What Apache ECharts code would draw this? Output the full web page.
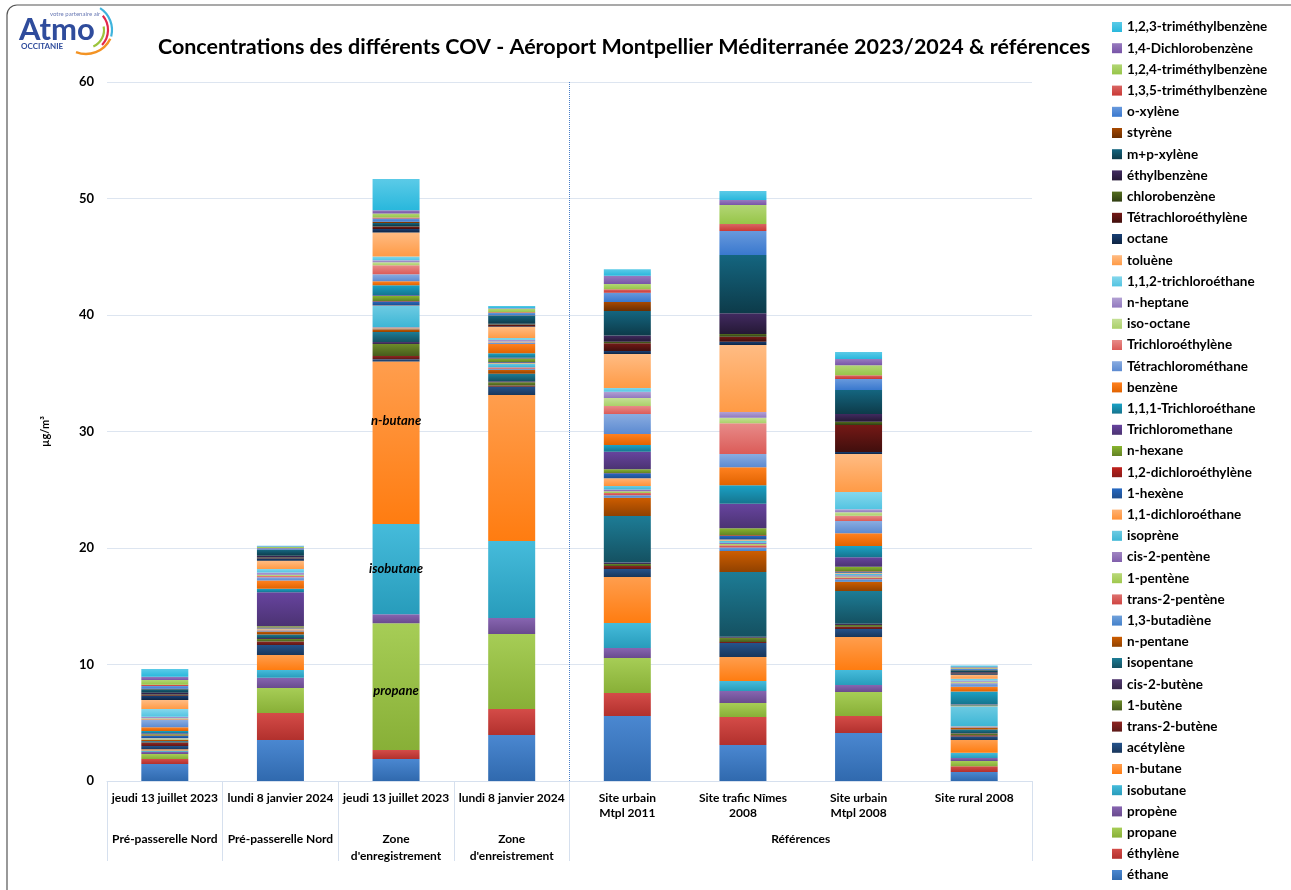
<!DOCTYPE html>
<html>
<head>
<meta charset="utf-8">
<title>COV - Aéroport Montpellier Méditerranée</title>
<script src="https://cdn.jsdelivr.net/npm/echarts@6/dist/echarts.min.js"></script>
<style>
  html, body { margin: 0; padding: 0; background: #fff; }
  #chart { width: 1291px; height: 890px; }
</style>
</head>
<body>
<div id="chart"></div>
<script>
// catégories (x) et regroupements
const categories = [
  'jeudi 13 juillet 2023', 'lundi 8 janvier 2024', 'jeudi 13 juillet 2023', 'lundi 8 janvier 2024',
  'Site urbain\nMtpl 2011', 'Site trafic Nîmes\n2008', 'Site urbain\nMtpl 2008', 'Site rural 2008'
];
const groups = ['Pré-passerelle Nord', 'Pré-passerelle Nord', "Zone\nd'enregistrement", "Zone\nd'enreistrement", 'Références'];
const groupPos = [0.5, 1.5, 2.5, 3.5, 6];

// composés, du bas de la pile vers le haut
const compounds = [
  'éthane', 'éthylène', 'propane', 'propène', 'isobutane', 'n-butane', 'acétylène', 'trans-2-butène',
  '1-butène', 'cis-2-butène', 'isopentane', 'n-pentane', '1,3-butadiène', 'trans-2-pentène', '1-pentène',
  'cis-2-pentène', 'isoprène', '1,1-dichloroéthane', '1-hexène', '1,2-dichloroéthylène', 'n-hexane',
  'Trichloromethane', '1,1,1-Trichloroéthane', 'benzène', 'Tétrachlorométhane', 'Trichloroéthylène',
  'iso-octane', 'n-heptane', '1,1,2-trichloroéthane', 'toluène', 'octane', 'Tétrachloroéthylène',
  'chlorobenzène', 'éthylbenzène', 'm+p-xylène', 'styrène', 'o-xylène', '1,3,5-triméthylbenzène',
  '1,2,4-triméthylbenzène', '1,4-Dichlorobenzène', '1,2,3-triméthylbenzène'
];
const compoundColors = [
  '#4F81BD', '#C0504D', '#9BBB59', '#8064A2', '#4BACC6', '#F79646', '#2C4D75', '#772C2A',
  '#5F7530', '#4D3B62', '#276A7C', '#B65708', '#729ACA', '#CD7371', '#AFC97A',
  '#9983B5', '#6FBDD1', '#F9AB6B', '#3565A5', '#A2302D', '#7A9A3A',
  '#62498A', '#2B8CA6', '#F57A1A', '#89A6D2', '#D98A88',
  '#BCD394', '#AC9DC8', '#85CBDD', '#F9B47A', '#1F3A5F', '#5E1F1D',
  '#485A24', '#3B2B50', '#1D5567', '#924306', '#6A93CB', '#C76866',
  '#A8C675', '#9179B1', '#5FBCD4'
];

// concentrations (µg/m3), même ordre que compounds
const preNord2023 = [1.46, 0.43, 0.43, 0.2, 0.1, 0.1, 0.28, 0.26, 0.05, 0.05, 0.07, 0.08, 0.03, 0.03, 0.03, 0.03, 0.03, 0.03, 0.17, 0.05, 0.1, 0.08, 0.2, 0.32, 0.63, 0.06, 0.08, 0.14, 0.66, 0.77, 0.35, 0.05, 0.08, 0.15, 0.29, 0.05, 0.23, 0.12, 0.4, 0.28, 0.66];
const preNord2024 = [3.52, 2.32, 2.14, 0.89, 0.66, 1.29, 0.86, 0.3, 0.2, 0.1, 0.3, 0.25, 0.05, 0.03, 0.03, 0.03, 0.03, 0.1, 0.05, 0.03, 0.1, 2.92, 0.3, 0.7, 0.3, 0.1, 0.1, 0.2, 0.3, 0.7, 0.2, 0.05, 0.03, 0.15, 0.5, 0.03, 0.12, 0.03, 0.08, 0.03, 0.08];
const zoneEnr2023 = [1.89, 0.77, 10.88, 0.77, 7.75, 13.94, 0.2, 0.28, 1.03, 0.17, 0.86, 0.23, 0.05, 0.05, 0.05, 0.05, 1.8, 0.05, 0.34, 0.05, 0.43, 0.05, 0.86, 0.34, 0.6, 0.77, 0.26, 0.17, 0.34, 2.06, 0.29, 0.17, 0.05, 0.05, 0.25, 0.1, 0.29, 0.08, 0.34, 0.29, 2.67];
const zoneEnr2024 = [3.95, 2.23, 6.44, 1.37, 6.61, 12.53, 0.72, 0.09, 0.29, 0.09, 0.63, 0.34, 0.1, 0.05, 0.05, 0.05, 0.3, 0.05, 0.05, 0.03, 0.3, 0.05, 0.4, 0.8, 0.1, 0.05, 0.05, 0.15, 0.15, 0.95, 0.05, 0.15, 0.03, 0.05, 0.7, 0.03, 0.2, 0.05, 0.3, 0.05, 0.2];
const urbainMtpl2011 = [5.58, 1.97, 3.0, 0.86, 2.15, 3.95, 0.69, 0.26, 0.17, 0.12, 4.0, 1.57, 0.2, 0.2, 0.15, 0.15, 0.3, 0.66, 0.43, 0.03, 0.31, 1.52, 0.57, 0.95, 1.71, 0.69, 0.69, 0.54, 0.31, 2.92, 0.26, 0.66, 0.14, 0.54, 2.09, 0.78, 0.8, 0.28, 0.46, 0.71, 0.55];
const traficNimes2008 = [3.09, 2.4, 1.2, 1.03, 0.86, 2.06, 1.2, 0.1, 0.35, 0.1, 5.55, 1.8, 0.3, 0.2, 0.1, 0.1, 0.2, 0.1, 0.3, 0.05, 0.6, 2.1, 1.6, 1.54, 1.14, 2.63, 0.49, 0.48, 0, 5.75, 0.29, 0.43, 0.23, 1.77, 5.01, 0, 2.06, 0.6, 1.63, 0.43, 0.77];
const urbainMtpl2008 = [4.12, 1.46, 2.06, 0.6, 1.29, 2.83, 0.69, 0.2, 0.15, 0.1, 2.8, 0.81, 0.2, 0.15, 0.1, 0.1, 0.15, 0.06, 0.1, 0.03, 0.4, 0.8, 0.97, 1.09, 1.06, 0.45, 0.29, 0.26, 1.49, 3.26, 0.17, 2.32, 0.28, 0.66, 2.06, 0, 0.95, 0.31, 0.86, 0.54, 0.6];
const rural2008 = [0.77, 0.5, 0.45, 0.25, 0.45, 1.1, 0.3, 0.1, 0.15, 0.05, 0.3, 0.15, 0.05, 0.03, 0.03, 0.03, 1.7, 0.03, 0.03, 0.02, 0.05, 0.05, 1.1, 0.4, 0.3, 0.05, 0.08, 0.1, 0.15, 0.35, 0.1, 0.05, 0.03, 0.05, 0.15, 0.02, 0.1, 0.03, 0.1, 0.05, 0.12];

const columns = [preNord2023, preNord2024, zoneEnr2023, zoneEnr2024, urbainMtpl2011, traficNimes2008, urbainMtpl2008, rural2008];

// étiquettes écrites dans la 3e barre (décalage vertical)
const inBarLabels = { 'n-butane': -22, 'isobutane': 0, 'propane': 4 };

const font = 'Lato';

// hex -> hsl, on sature un peu et on joue sur la luminosité
function hsl(hex, satMul, dl) {
  const n = parseInt(hex.slice(1), 16);
  let r = ((n >> 16) & 255) / 255, g = ((n >> 8) & 255) / 255, b = (n & 255) / 255;
  const max = Math.max(r, g, b), min = Math.min(r, g, b);
  let h = 0, s = 0, l = (max + min) / 2;
  if (max !== min) {
    const d = max - min;
    s = l > 0.5 ? d / (2 - max - min) : d / (max + min);
    if (max === r) h = (g - b) / d + (g < b ? 6 : 0);
    else if (max === g) h = (b - r) / d + 2;
    else h = (r - g) / d + 4;
    h *= 60;
  }
  s = Math.min(1, s * satMul);
  l = Math.max(0, Math.min(1, l + dl));
  return 'hsl(' + h.toFixed(1) + ',' + (s * 100).toFixed(1) + '%,' + (l * 100).toFixed(1) + '%)';
}

function gradient(hex) {
  return {
    type: 'linear', x: 0, y: 0, x2: 0, y2: 1,
    colorStops: [
      { offset: 0, color: hsl(hex, 1.3, 0.03) },
      { offset: 1, color: hsl(hex, 1.25, -0.09) }
    ]
  };
}

const series = compounds.map((name, i) => ({
  name: name,
  type: 'bar',
  stack: 'cov',
  barWidth: 47,
  itemStyle: { color: gradient(compoundColors[i]) },
  emphasis: { disabled: true },
  data: columns.map((col, j) => {
    if (j === 2 && inBarLabels[name] !== undefined) {
      return {
        value: col[i],
        label: {
          show: true, position: 'inside', formatter: '{a}',
          offset: [0, inBarLabels[name]],
          color: '#000', fontFamily: font, fontSize: 13, fontWeight: 'bold', fontStyle: 'italic'
        }
      };
    }
    return col[i];
  })
}));

const chart = echarts.init(document.getElementById('chart'));

chart.setOption({
  animation: false,
  backgroundColor: '#fff',
  title: {
    text: 'Concentrations des différents COV - Aéroport Montpellier Méditerranée 2023/2024 & références',
    left: 619, top: 31, textAlign: 'center',
    textStyle: { fontFamily: font, fontSize: 21.5, fontWeight: 'bold', color: '#000' }
  },
  legend: {
    orient: 'vertical',
    left: 1112, top: 20,
    padding: 0,
    data: compounds.slice().reverse(),
    icon: 'rect',
    itemWidth: 10, itemHeight: 10,
    itemGap: 7.2,
    selectedMode: false,
    textStyle: { fontFamily: font, fontSize: 13.5, fontWeight: 'bold', color: '#000' }
  },
  grid: { left: 107, right: 259, top: 82, bottom: 109 },
  xAxis: [
    {
      type: 'category',
      data: categories,
      axisLine: { lineStyle: { color: '#d6e0ee' } },
      axisTick: { show: false },
      splitLine: { show: false },
      axisLabel: {
        interval: 0, margin: 10, lineHeight: 15,
        fontFamily: font, fontSize: 12, fontWeight: 'bold', color: '#000'
      }
    },
    {
      // regroupements sous l'axe + traits du tableau
      type: 'value',
      min: 0, max: 8,
      position: 'bottom',
      axisLine: { show: false },
      splitLine: { show: false },
      axisTick: { show: true, customValues: [0, 1, 2, 3, 4, 8], length: 80, lineStyle: { color: '#d6e0ee' } },
      axisLabel: {
        customValues: groupPos,
        formatter: (v) => groups[groupPos.indexOf(v)],
        margin: 50, lineHeight: 17,
        fontFamily: font, fontSize: 12, fontWeight: 'bold', color: '#000'
      }
    },
    {
      // séparateur pointillé avant les références
      type: 'value',
      min: 0, max: 8, interval: 4,
      position: 'bottom',
      axisLine: { show: false },
      axisTick: { show: false },
      axisLabel: { show: false },
      splitLine: {
        show: true, showMinLine: false, showMaxLine: false,
        lineStyle: { color: '#4a7fc8', type: 'dotted', width: 1 }
      }
    }
  ],
  yAxis: {
    type: 'value',
    min: 0, max: 60, interval: 10,
    name: 'µg/m³',
    nameLocation: 'middle', nameGap: 56, nameRotate: 90,
    nameTextStyle: { fontFamily: font, fontSize: 11, fontWeight: 'bold', color: '#000' },
    axisLine: { show: false },
    axisTick: { show: false },
    axisLabel: { margin: 13, fontFamily: font, fontSize: 13, fontWeight: 'bold', color: '#000' },
    splitLine: { lineStyle: { color: '#dde5f0' } }
  },
  graphic: [
    { type: 'rect', silent: true, shape: { x: 7, y: 5, width: 1310, height: 910, r: 10 },
      style: { fill: null, stroke: '#555', lineWidth: 1.2 } },
    // logo Atmo Occitanie
    { type: 'text', left: 19, top: 14, style: { text: 'Atmo', font: 'bold 31px Lato', fill: '#2f4c9c' } },
    { type: 'text', left: 50, top: 11, style: { text: 'votre partenaire air', font: '6px Lato', fill: '#6b7bb5' } },
    { type: 'text', left: 21, top: 42, style: { text: 'OCCITANIE', font: 'bold 8px Lato', fill: '#2f4c9c' } },
    { type: 'arc', shape: { cx: 86, cy: 30, r: 26, startAngle: -1.0, endAngle: 0.25 }, style: { stroke: '#3fb4dd', lineWidth: 2.2, fill: null } },
    { type: 'arc', shape: { cx: 86, cy: 30, r: 22, startAngle: -0.7, endAngle: 0.75 }, style: { stroke: '#e2284a', lineWidth: 2.2, fill: null } },
    { type: 'arc', shape: { cx: 86, cy: 30, r: 18, startAngle: -0.2, endAngle: 1.15 }, style: { stroke: '#9cc43c', lineWidth: 2.2, fill: null } },
    { type: 'arc', shape: { cx: 86, cy: 27, r: 27, startAngle: 0.45, endAngle: 1.95 }, style: { stroke: '#f39324', lineWidth: 2.4, fill: null } }
  ],
  series: series
});
</script>
</body>
</html>
